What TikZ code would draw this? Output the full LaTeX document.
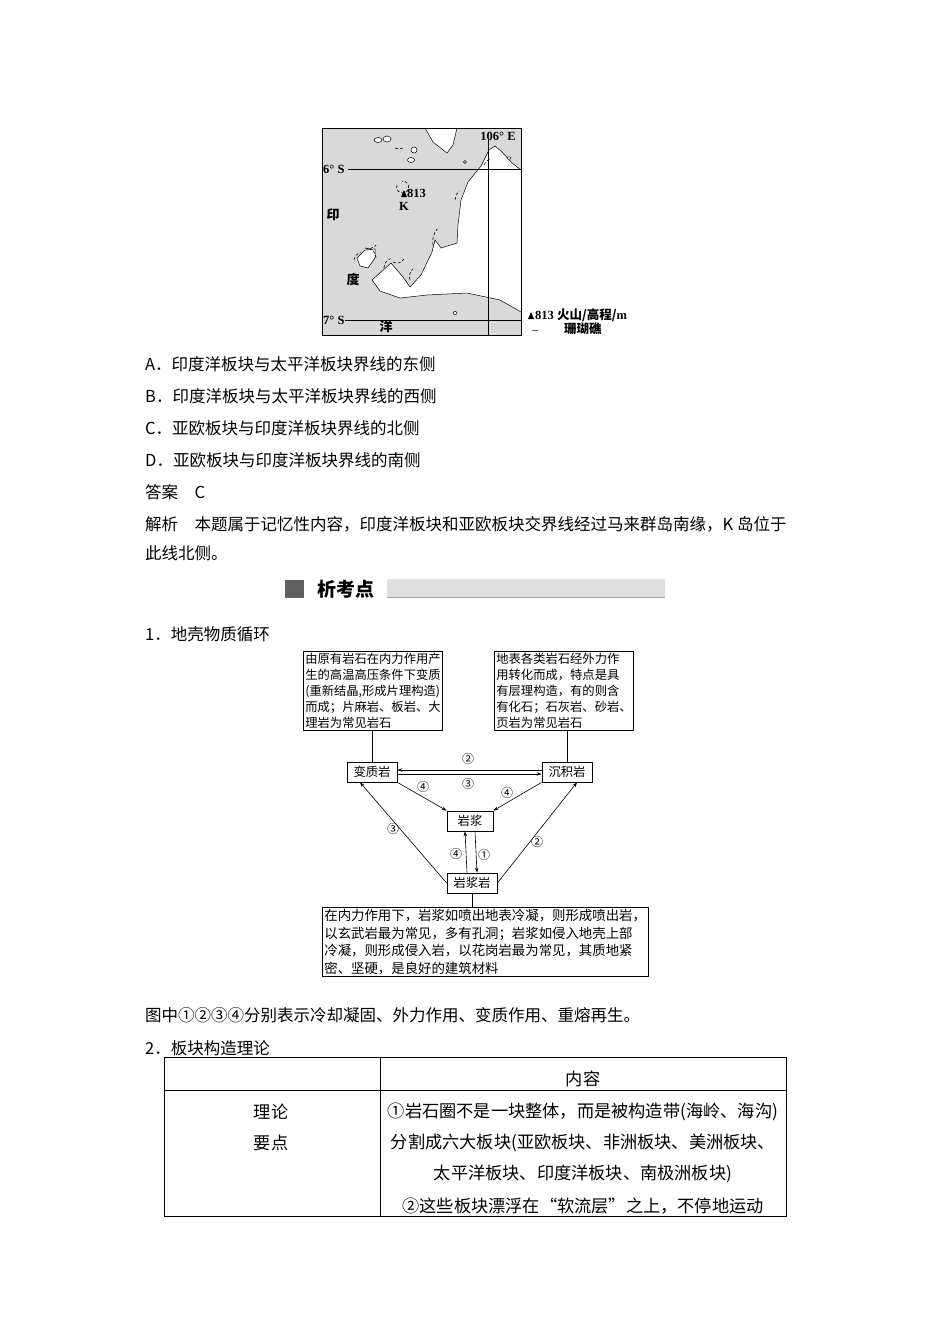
\documentclass[tikz,border=0pt]{standalone}
\usepackage{fontspec}
\setmainfont{Liberation Serif}
\newfontfamily\cjk{Noto Sans CJK SC}
\usetikzlibrary{arrows.meta}
\begin{document}
\begin{tikzpicture}[x=1pt,y=-1pt,
  txt/.style={inner sep=0pt,anchor=west,font=\cjk\fontsize{16.5}{18}\selectfont},
  ttxt/.style={inner sep=0pt,anchor=center,font=\cjk\fontsize{17.2}{18}\selectfont},
  dtxt/.style={draw,line width=0.7pt,inner sep=2pt,font=\cjk\fontsize{12.3}{16}\selectfont,align=left},
  rock/.style={draw,line width=0.7pt,inner sep=0pt,minimum height=20pt,font=\cjk\fontsize{12.3}{14}\selectfont},
  arr/.style={-{Stealth[length=5pt,width=3.5pt]},line width=0.6pt},
  lab/.style={inner sep=0pt,font=\cjk\fontsize{12}{14}\selectfont},
  mapl/.style={inner sep=0pt,font=\bfseries\fontsize{12.5}{13}\selectfont},
  coral/.style={dashed,dash pattern=on 3pt off 2pt,line width=0.6pt}]
\useasboundingbox (0,0) rectangle (950,1344);
% ---------- map ----------
\fill[gray!30] (322,128) rectangle (521,335);
\fill[white] (521,170) -- (512,163) -- (502,152) -- (495,146) -- (489,150) -- (481,166) -- (468,182) -- (461,200) -- (458,225) -- (457,243) -- (441,248) -- (435,240) -- (432,252) -- (421,275) -- (410,287) -- (403,277) -- (391,263) -- (372,280) -- (380,291) -- (400,298) -- (427,295) -- (467,293) -- (500,300) -- (521,312) -- cycle;
\draw[line width=0.5pt] (521,170) -- (512,163) -- (502,152) -- (495,146) -- (489,150) -- (481,166) -- (468,182) -- (461,200) -- (458,225) -- (457,243) -- (441,248) -- (435,240) -- (432,252) -- (421,275) -- (410,287) -- (403,277) -- (391,263) -- (372,280) -- (380,291) -- (400,298) -- (427,295) -- (467,293) -- (500,300) -- (521,312);
\fill[white] (425,128) -- (433,142) -- (447,153) -- (453,145) -- (457,128) -- cycle;
\draw[line width=0.5pt] (425,128) -- (433,142) -- (447,153) -- (453,145) -- (457,128);
\draw[fill=white,line width=0.5pt] (378,140) ellipse (4 and 2.5);
\draw[fill=white,line width=0.5pt] (387,139) ellipse (4 and 3);
\draw[fill=white,line width=0.5pt] (414,150) ellipse (3 and 3);
\draw[fill=white,line width=0.5pt] (411,160) ellipse (3.5 and 2.5);
\draw[fill=white,line width=0.5pt] (465,162) ellipse (1.5 and 1.5);
\draw[fill=white,line width=0.5pt] (509,158) ellipse (2 and 1.2);
\draw[fill=white,line width=0.5pt] (455,313) ellipse (2 and 1.5);
\draw[fill=white,line width=0.5pt] (357,258) -- (365,250) -- (375,249) -- (375,258) -- (368,268) -- (360,266) -- cycle;
\draw[coral] (397,185) arc (200:-100:6);
\draw[coral] (354,260) arc (190:250:10);
\draw[coral] (365,248) arc (110:40:10);
\draw[coral] (376,258) arc (0:-80:10);
\draw[coral] (455,200) arc (180:230:12);
\draw[coral] (433,245) arc (170:220:20);
\draw[coral] (384,268) arc (180:250:10);
\draw[coral] (393,262) arc (120:30:8);
\draw[coral] (410,280) arc (160:230:10);
\draw[coral] (484,165) arc (200:250:10);
\draw[coral] (395,148) arc (120:60:8);
\draw[line width=0.5pt] (322,128) rectangle (521,335);
\draw[line width=0.5pt] (348,169) -- (521,169);
\draw[line width=0.5pt] (345,320) -- (521,320);
\draw[line width=0.5pt] (488,140) -- (488,335);
\node[mapl] (e106) at (498,136) {106° E};
\node[mapl,anchor=west] (s6) at (323,169) {6° S};
\node[mapl,anchor=west] (s7) at (323,320) {7° S};
\fill (401,197) -- (404,190) -- (407,197) -- cycle;
\node[mapl,anchor=west] (v813) at (407,193) {813};
\node[mapl] (kk) at (404,206) {K};
\node[inner sep=0pt,font=\cjk\bfseries\fontsize{13}{13}\selectfont] (yin) at (333,215) {印};
\node[inner sep=0pt,font=\cjk\bfseries\fontsize{13}{13}\selectfont] (du) at (353,279) {度};
\node[inner sep=0pt,font=\cjk\bfseries\fontsize{13}{13}\selectfont] (yang) at (386,327) {洋};
\fill (528,319) -- (531,312) -- (534,319) -- cycle;
\node[mapl,anchor=west] (leg1) at (535,315) {813 {\cjk 火山/高程/}m};
\draw[line width=0.5pt] (532,330) arc (120:60:6);
\node[anchor=west,inner sep=0pt,font=\cjk\bfseries\fontsize{12.5}{13}\selectfont] (leg2) at (564,329) {珊瑚礁};
% ---------- options ----------
\node[txt] (oa) at (145,364) {A．印度洋板块与太平洋板块界线的东侧};
\node[txt] (ob) at (145,396) {B．印度洋板块与太平洋板块界线的西侧};
\node[txt] (oc) at (145,428) {C．亚欧板块与印度洋板块界线的北侧};
\node[txt] (od) at (145,460) {D．亚欧板块与印度洋板块界线的南侧};
\node[txt] (ans) at (145,492) {答案\quad C};
\node[txt] (jx1) at (145,524) {解析\quad 本题属于记忆性内容，印度洋板块和亚欧板块交界线经过马来群岛南缘，K 岛位于};
\node[txt] (jx2) at (145,553) {此线北侧。};
% ---------- header ----------
\fill[gray!75!black] (285,580) rectangle (304,598);
\node[inner sep=0pt,anchor=west,font=\cjk\bfseries\fontsize{19}{20}\selectfont] (hd) at (317,589) {析考点};
\fill[gray!25] (387,579) rectangle (665,597);
\draw[gray!70,line width=1pt] (387,597.5) -- (665,597.5);
\node[txt] (t1) at (145,634) {1．地壳物质循环};
% ---------- rock cycle ----------
\node[dtxt,anchor=north west] (lbox) at (303,651) {由原有岩石在内力作用产\\生的高温高压条件下变质\\(重新结晶,形成片理构造)\\而成；片麻岩、板岩、大\\理岩为常见岩石};
\node[dtxt,anchor=north west] (rbox) at (494,651) {地表各类岩石经外力作\\用转化而成，特点是具\\有层理构造，有的则含\\有化石；石灰岩、砂岩、\\页岩为常见岩石};
\node[rock,minimum width=50pt] (bz) at (372,772) {变质岩};
\node[rock,minimum width=50pt] (cj) at (567,772) {沉积岩};
\node[rock,minimum width=46pt] (yj) at (470,821) {岩浆};
\node[rock,minimum width=50pt] (yjy) at (472,883) {岩浆岩};
\node[dtxt,anchor=north west,font=\cjk\fontsize{13.4}{17.5}\selectfont] (bbox) at (322,907) {在内力作用下，岩浆如喷出地表冷凝，则形成喷出岩，\\以玄武岩最为常见，多有孔洞；岩浆如侵入地壳上部\\冷凝，则形成侵入岩，以花岗岩最为常见，其质地紧\\密、坚硬，是良好的建筑材料};
\draw[line width=0.6pt] (bz.north) -- (bz.north |- lbox.south);
\draw[line width=0.6pt] (cj.north) -- (cj.north |- rbox.south);
\draw[line width=0.6pt] (yjy.south) -- (yjy.south |- bbox.north);
\draw[arr] ([yshift=-2pt]bz.east) -- ([yshift=-2pt]cj.west);
\draw[arr] ([yshift=2pt]cj.west) -- ([yshift=2pt]bz.east);
\draw[arr] (bz.south east) -- (yj.north west);
\draw[arr] (cj.south west) -- (yj.north east);
\draw[arr] (yjy.west) -- ([xshift=-12pt]bz.south);
\draw[arr] (yjy.east) -- ([xshift=10pt]cj.south);
\draw[arr] ([xshift=-5pt]yjy.north) -- ([xshift=-5pt]yj.south);
\draw[arr] ([xshift=5pt]yj.south) -- ([xshift=5pt]yjy.north);
\node[lab] (l2a) at (468,759) {②};
\node[lab] (l3a) at (468,784) {③};
\node[lab] (l4a) at (423,787) {④};
\node[lab] (l4b) at (507,793) {④};
\node[lab] (l3b) at (393,829) {③};
\node[lab] (l2b) at (537,842) {②};
\node[lab] (l4c) at (456,854) {④};
\node[lab] (l1) at (484,855) {①};
% ---------- bottom ----------
\node[txt] (sum) at (145,1015) {图中①②③④分别表示冷却凝固、外力作用、变质作用、重熔再生。};
\node[txt] (t2) at (145,1048) {2．板块构造理论};
\draw[line width=0.8pt] (164,1057) rectangle (786,1216);
\draw[line width=0.6pt] (380,1057) -- (380,1216);
\draw[line width=0.6pt] (164,1090) -- (786,1090);
\node[ttxt] (nr) at (583,1079) {内容};
\node[ttxt] (ll) at (271,1112) {理论};
\node[ttxt] (yd) at (271,1143) {要点};
\node[ttxt] (r1) at (583,1112) {①岩石圈不是一块整体，而是被构造带(海岭、海沟)};
\node[ttxt] (r2) at (583,1143) {分割成六大板块(亚欧板块、非洲板块、美洲板块、};
\node[ttxt] (r3) at (583,1174) {太平洋板块、印度洋板块、南极洲板块)};
\node[ttxt] (r4) at (583,1206) {②这些板块漂浮在“软流层”之上，不停地运动};
\end{tikzpicture}
\end{document}
